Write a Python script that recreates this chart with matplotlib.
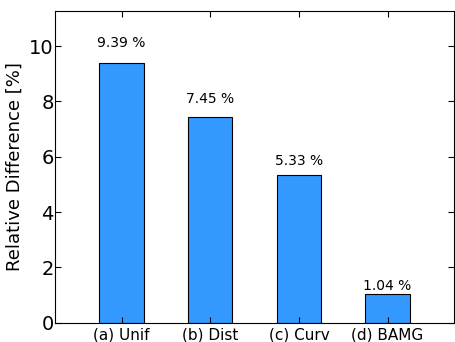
import matplotlib
matplotlib.use("Agg")
import matplotlib.pyplot as plt
import numpy as np

methods = ['(a) Unif', '(b) Dist', '(c) Curv', '(d) BAMG']
rel_diff = [9.39, 7.45, 5.33, 1.04]

fig = plt.figure(figsize=(4.55, 3.42), dpi=100)
ax = fig.add_axes([0.121, 0.056, 0.877, 0.912])

x = np.arange(len(methods))
ax.bar(x, rel_diff, width=0.5, color='#3399ff', edgecolor='black', linewidth=0.8)

# labels sit just above each bar
for xi, v in zip(x, rel_diff):
    ax.text(xi, v * 1.05, f'{v:.2f} %', ha='center', va='bottom', fontsize=10)

ax.set_xlim(-0.75, 3.75)
ax.set_ylim(0, max(rel_diff) * 1.2)
ax.set_xticks(x)
ax.set_xticklabels(methods, fontsize=11)
ax.set_yticks([0, 2, 4, 6, 8, 10])
ax.tick_params(axis='y', labelsize=14, pad=1)
ax.tick_params(axis='x', pad=3)
ax.tick_params(direction='in', top=True, right=True, length=4)
ax.set_ylabel('Relative Difference [%]', fontsize=13)

fig.savefig('out.png', dpi=100)
